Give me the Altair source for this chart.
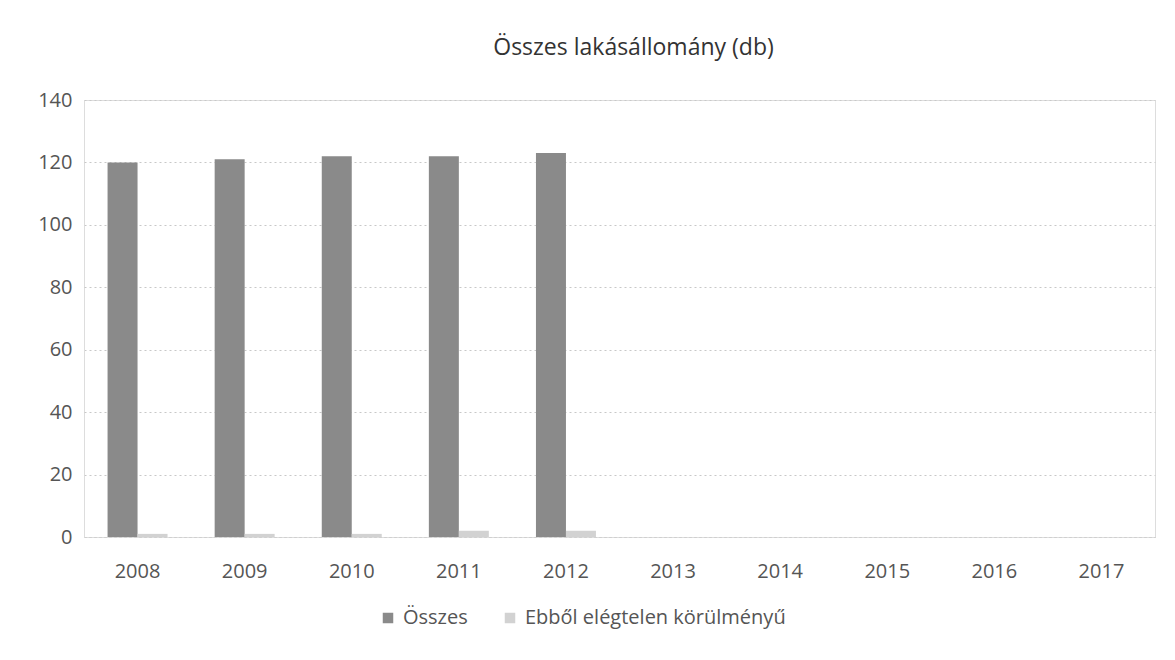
import altair as alt
import pandas as pd

years = ["2008", "2009", "2010", "2011", "2012", "2013", "2014", "2015", "2016", "2017"]
osszes = [120, 121, 122, 122, 123, None, None, None, None, None]
ebbol = [1, 1, 1, 2, 2, None, None, None, None, None]
series = ["Összes", "Ebből elégtelen körülményű"]
colors = ["#8a8a8a", "#d2d2d2"]

rows = []
for y, a, b in zip(years, osszes, ebbol):
    rows.append({"year": y, "series": series[0], "value": a})
    rows.append({"year": y, "series": series[1], "value": b})
df = pd.DataFrame(rows)

FONT = "Open Sans"

chart = alt.Chart(df).mark_bar().encode(
    x=alt.X("year:N", sort=years, title=None,
            scale=alt.Scale(domain=years, paddingInner=0.44, paddingOuter=0.22),
            axis=alt.Axis(labelAngle=0, labelFontSize=20, labelFont=FONT, labelColor="#555555",
                          ticks=False, domain=True, domainColor="#cfcfcf", domainDash=[2, 3],
                          labelPadding=24, grid=False)),
    xOffset=alt.XOffset("series:N", sort=series, scale=alt.Scale(domain=series)),
    y=alt.Y("value:Q", title=None,
            scale=alt.Scale(domain=[0, 140], nice=False),
            axis=alt.Axis(values=[0, 20, 40, 60, 80, 100, 120, 140], labelFontSize=20,
                          labelFont=FONT, labelColor="#555555", ticks=False, domain=True,
                          domainColor="#dddddd", domainDash=[2, 4],
                          labelPadding=12, gridColor="#c8c8c8", gridDash=[2, 3], gridWidth=1)),
    color=alt.Color("series:N", sort=series,
                    scale=alt.Scale(domain=series, range=colors),
                    legend=alt.Legend(title=None, orient="none", direction="horizontal",
                                      legendX=294, legendY=508, symbolType="square",
                                      symbolSize=110, symbolStrokeWidth=0,
                                      labelFontSize=20, labelFont=FONT, labelColor="#555555",
                                      labelLimit=500, columnPadding=32, labelOffset=5)),
).properties(
    width=1071,
    height=437,
    title=alt.TitleParams("Összes lakásállomány (db)", fontSize=23, font=FONT,
                          fontWeight="normal", color="#333333", offset=30, dx=14),
    padding={"left": 76, "top": 92, "right": 12, "bottom": 115},
    autosize=alt.AutoSizeParams(type="none"),
).configure_view(stroke=None).configure(background="white")

chart.save("out.html", embed_options={"renderer": "svg", "actions": False})
